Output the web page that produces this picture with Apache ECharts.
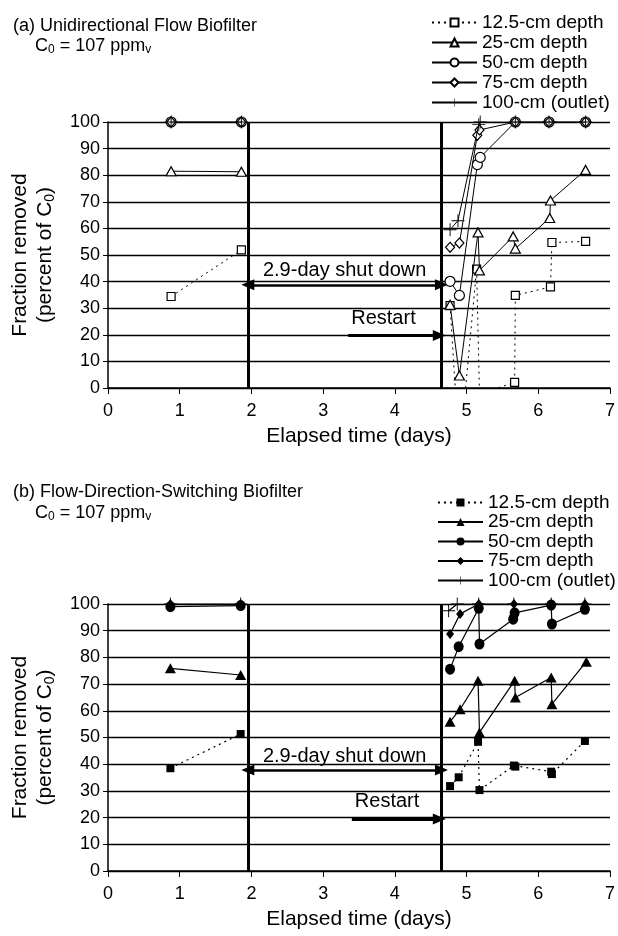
<!DOCTYPE html>
<html>
<head>
<meta charset="utf-8">
<script src="https://cdn.jsdelivr.net/npm/echarts@6/dist/echarts.min.js"></script>
<style>
html,body{margin:0;padding:0;background:#fff;}
#chart{width:618px;height:936px;}
</style>
</head>
<body>
<div id="chart"></div>
<script>
// ---------- DATA ----------
const depthNames = ['12.5-cm depth', '25-cm depth', '50-cm depth', '75-cm depth', '100-cm (outlet)'];
const xTicks = [0, 1, 2, 3, 4, 5, 6, 7];
const shutdownDays = [1.95, 4.65];   // shutdown start, restart
const shutdownLabel = '2.9-day shut down';
const restartLabel = 'Restart';

// Panel (a) Unidirectional flow  [day, percent removed]
const a125Pre  = [[0.88, 34.4], [1.86, 51.9]];
const a125Post = [[4.77, 31], [4.90, -25], [5.14, 44.7], [5.18, -2.2], [5.67, 2.1], [5.68, 34.8], [6.17, 38], [6.19, 54.7], [6.66, 55.1]];
const a25Pre   = [[0.88, 81.5], [1.86, 81.3]];
const a25Post  = [[4.77, 31.3], [4.90, 4.7], [5.16, 58.5], [5.18, 44.2], [5.65, 57], [5.68, 52.4], [6.16, 63.9], [6.17, 70.5], [6.66, 82]];
const a50Pre   = [[0.88, 100], [1.86, 100]];
const a50Post  = [[4.77, 40.1], [4.90, 34.8], [5.15, 84], [5.19, 86.7], [5.68, 100], [6.15, 100], [6.66, 100]];
const a75Pre   = [[0.88, 100], [1.86, 100]];
const a75Post  = [[4.77, 52.9], [4.90, 54.5], [5.15, 95], [5.18, 97], [5.68, 100], [6.15, 100], [6.66, 100]];
const a100Pre  = [[0.88, 100], [1.86, 100]];
const a100Post = [[4.77, 59.5], [4.88, 62.9], [5.17, 99], [5.19, 100], [5.68, 100], [6.15, 100], [6.66, 100]];

// Panel (b) Flow-direction-switching
const b125Pre  = [[0.87, 38.5], [1.85, 51.3]];
const b125Post = [[4.77, 31.8], [4.89, 35.1], [5.16, 48.4], [5.18, 30.3], [5.66, 39.5], [5.68, 39.1], [6.18, 37.2], [6.19, 36.3], [6.65, 48.7]];
const b25Pre   = [[0.87, 75.9], [1.85, 73.4]];
const b25Post  = [[4.77, 55.9], [4.91, 60.6], [5.16, 71.3], [5.18, 51.9], [5.67, 71.3], [5.68, 65], [6.18, 72.5], [6.19, 62.5], [6.67, 78.4]];
const b50Pre   = [[0.87, 99], [1.85, 99.4]];
const b50Post  = [[4.77, 75.6], [4.89, 84], [5.17, 98.4], [5.18, 85], [5.65, 94.3], [5.67, 96.7], [6.18, 99.6], [6.19, 92.5], [6.65, 98]];
const b75Pre   = [[0.87, 100], [1.85, 100]];
const b75Post  = [[4.77, 88.8], [4.91, 96.3], [5.17, 100], [5.66, 100], [6.18, 100], [6.65, 100]];
const b100Pre  = [[0.87, 100], [1.85, 100]];
const b100Post = [[4.75, 97.5], [4.87, 100], [5.17, 100], [5.66, 100], [6.18, 100], [6.65, 100]];

// ---------- BUILD ----------
const FONT = 'Liberation Sans, Arial, Helvetica, sans-serif';
const PLUS = 'path://M9.3,0h1.4v20h-1.4z M0,9.3h20v1.4h-20z';
const symbols = ['rect', 'triangle', 'circle', 'diamond', PLUS];
const symSizesA = [8, [10, 9], 10, [9, 10], 13];
const symSizesB = [8, [11, 10], [10, 11], [8, 10], 13];

function joinGap(pre, post) { return pre.concat([[3.3, '-']], post); }

const dataA = [joinGap(a125Pre, a125Post), joinGap(a25Pre, a25Post), joinGap(a50Pre, a50Post), joinGap(a75Pre, a75Post), joinGap(a100Pre, a100Post)];
const dataB = [joinGap(b125Pre, b125Post), joinGap(b25Pre, b25Post), joinGap(b50Pre, b50Post), joinGap(b75Pre, b75Post), joinGap(b100Pre, b100Post)];

function makeSeries(prefix, idx, datasets, hollow, sizes) {
  return datasets.map((d, i) => ({
    name: prefix + depthNames[i],
    type: 'line',
    xAxisIndex: idx, yAxisIndex: idx,
    data: d,
    symbol: symbols[i],
    symbolSize: sizes[i],
    showAllSymbol: true,
    connectNulls: false,
    clip: true,
    lineStyle: { color: '#000', width: hollow ? 1 : 1.2, type: i === 0 ? [2, 4] : 'solid' },
    itemStyle: (hollow && i !== 4)
      ? { color: '#fff', borderColor: '#000', borderWidth: 1.2 }
      : { color: '#000', borderColor: '#000', borderWidth: 0 },
    z: 3 + i
  }));
}

function annotSeries(idx, arrowY, restartStart, restartY) {
  return {
    type: 'line', xAxisIndex: idx, yAxisIndex: idx, data: [], silent: true,
    markLine: {
      silent: true, animation: false, symbol: 'none',
      label: { show: false },
      lineStyle: { color: '#000', width: 3, type: 'solid' },
      data: [
        { xAxis: shutdownDays[0] },
        { xAxis: shutdownDays[1] },
        [
          { coord: [shutdownDays[0], arrowY], symbol: 'triangle', symbolSize: [11, 13],
            lineStyle: { color: '#000', width: 2.5, type: 'solid' },
            label: { show: true, formatter: shutdownLabel, position: 'insideMiddleTop', distance: 4,
                     color: '#000', fontSize: 20, fontFamily: FONT } },
          { coord: [shutdownDays[1], arrowY], symbol: 'triangle', symbolSize: [11, 13] }
        ],
        [
          { coord: [restartStart, restartY], symbol: 'none',
            lineStyle: { color: '#000', width: 3, type: 'solid' },
            label: { show: true, formatter: restartLabel, position: 'insideStartTop', distance: [3, 7],
                     color: '#000', fontSize: 20, fontFamily: FONT } },
          { coord: [shutdownDays[1] - 0.03, restartY], symbol: 'triangle', symbolSize: [11, 13] }
        ]
      ]
    }
  };
}

function xAxisCfg(idx) {
  return {
    type: 'value', gridIndex: idx, min: xTicks[0], max: xTicks[xTicks.length - 1], interval: 1,
    name: 'Elapsed time (days)', nameLocation: 'middle', nameGap: 38,
    nameTextStyle: { color: '#000', fontSize: 21, fontFamily: FONT },
    axisLine: { show: true, onZero: false, lineStyle: { color: '#000', width: 1.5 } },
    axisTick: { show: true, inside: false, length: 6, lineStyle: { color: '#000', width: 1 } },
    axisLabel: { color: '#000', fontSize: 18, fontFamily: FONT, margin: 14 },
    splitLine: { show: false }
  };
}
function yAxisCfg(idx) {
  return {
    type: 'value', gridIndex: idx, min: 0, max: 100, interval: 10,
    name: 'Fraction removed\n(percent of C{sub|0})', nameLocation: 'middle', nameGap: 50,
    nameTextStyle: { color: '#000', fontSize: 21, fontFamily: FONT, lineHeight: 25,
      rich: { sub: { fontSize: 14, fontFamily: FONT, color: '#000', padding: [9, 0, 0, 0] } } },
    axisLine: { show: true, lineStyle: { color: '#000', width: 1.5 } },
    axisTick: { show: true, length: 5, lineStyle: { color: '#000', width: 1 } },
    axisLabel: { color: '#000', fontSize: 18, fontFamily: FONT, margin: 8 },
    splitLine: { show: true, lineStyle: { color: '#000', width: 1.3 } }
  };
}

const subRich = {
  n: { fontSize: 18, fontFamily: FONT, color: '#000', fontWeight: 'normal' },
  s: { fontSize: 12, fontFamily: FONT, color: '#000', fontWeight: 'normal', padding: [8, 0, 0, 0] }
};

const option = {
  animation: false,
  backgroundColor: '#fff',
  title: [
    { text: '(a) Unidirectional Flow Biofilter', left: 8, top: 12,
      textStyle: { color: '#000', fontSize: 18, fontWeight: 'normal', fontFamily: FONT } },
    { text: '{n|C}{s|0}{n| = 107 ppm}{s|v}', left: 30, top: 31,
      textStyle: { fontWeight: 'normal', rich: subRich } },
    { text: '(b) Flow-Direction-Switching Biofilter', left: 8, top: 478,
      textStyle: { color: '#000', fontSize: 18, fontWeight: 'normal', fontFamily: FONT } },
    { text: '{n|C}{s|0}{n| = 107 ppm}{s|v}', left: 30, top: 498,
      textStyle: { fontWeight: 'normal', rich: subRich } }
  ],
  legend: [
    { data: depthNames.map(n => 'a:' + n), formatter: n => n.slice(2), orient: 'vertical',
      left: 431, top: 13, itemWidth: 45, itemHeight: 10, itemGap: 1, padding: 0,
      textStyle: { color: '#000', fontSize: 19, fontFamily: FONT }, selectedMode: false },
    { data: depthNames.map(n => 'b:' + n), formatter: n => n.slice(2), orient: 'vertical',
      left: 437, top: 493, itemWidth: 45, itemHeight: 10, itemGap: 0.5, padding: 0,
      textStyle: { color: '#000', fontSize: 19, fontFamily: FONT }, selectedMode: false }
  ],
  grid: [
    { left: 104, right: 6, top: 122, bottom: 548 },
    { left: 105, right: 7, top: 604, bottom: 65 }
  ],
  xAxis: [xAxisCfg(0), xAxisCfg(1)],
  yAxis: [yAxisCfg(0), yAxisCfg(1)],
  series: [].concat(
    makeSeries('a:', 0, dataA, true, symSizesA),
    makeSeries('b:', 1, dataB, false, symSizesB),
    [annotSeries(0, 38.8, 3.35, 19.7), annotSeries(1, 37.8, 3.4, 19.5)]
  )
};

const chart = echarts.init(document.getElementById('chart'), null, { renderer: 'canvas' });
chart.setOption(option);
</script>
</body>
</html>
